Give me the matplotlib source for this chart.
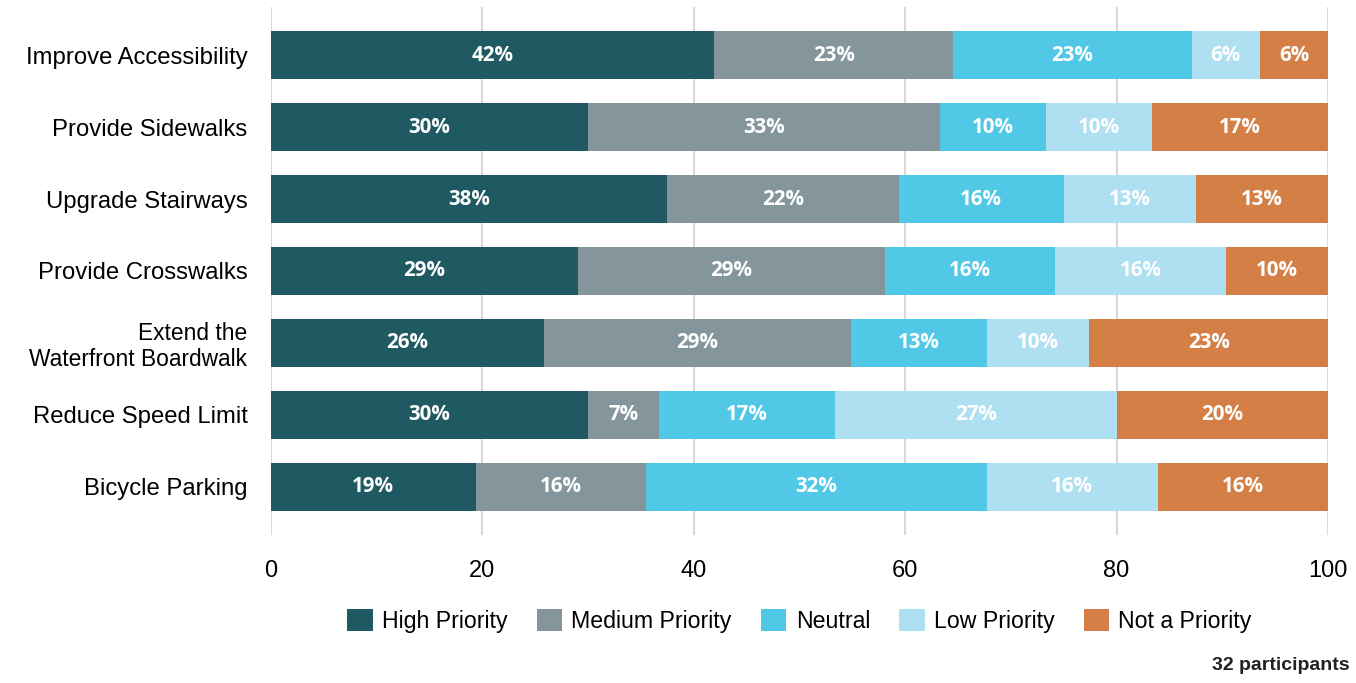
import matplotlib
matplotlib.use("Agg")
import matplotlib.pyplot as plt
from matplotlib.patches import Patch

# Survey results: share of responses (%) per project and priority level
projects = [
    "Improve Accessibility",
    "Provide Sidewalks",
    "Upgrade Stairways",
    "Provide Crosswalks",
    "Extend the\nWaterfront Boardwalk",
    "Reduce Speed Limit",
    "Bicycle Parking",
]
levels = ["High Priority", "Medium Priority", "Neutral", "Low Priority", "Not a Priority"]

high_priority = [41.94, 30.00, 37.50, 29.03, 25.81, 30.00, 19.35]
medium_priority = [22.58, 33.33, 21.88, 29.03, 29.03, 6.67, 16.13]
neutral = [22.58, 10.00, 15.63, 16.13, 12.90, 16.67, 32.26]
low_priority = [6.45, 10.00, 12.50, 16.13, 9.68, 26.67, 16.13]
not_a_priority = [6.45, 16.67, 12.50, 9.68, 22.58, 20.00, 16.13]

x_ticks = [0, 20, 40, 60, 80, 100]
footnote = "32 participants"

colors = ["#1F5962", "#84969B", "#50C8E6", "#AEE0F1", "#D47F46"]
series = [high_priority, medium_priority, neutral, low_priority, not_a_priority]

fig = plt.figure(figsize=(13.56, 6.83), dpi=100)
ax = fig.add_axes([271 / 1356, 1 - 535 / 683, (1328 - 271) / 1356, 528 / 683])

ypos = list(range(len(projects)))
left = [0.0] * len(projects)
for vals, color, name in zip(series, colors, levels):
    ax.barh(ypos, vals, left=left, height=0.667, color=color,
            edgecolor="none", label=name, zorder=3)
    for y, l, v in zip(ypos, left, vals):
        ax.text(l + v / 2, y, f"{int(v + 0.5)}%", ha="center", va="center",
                color="white", fontsize=14.8, fontweight="bold",
                family="Open Sans", zorder=4)
    left = [a + b for a, b in zip(left, vals)]

ax.set_xlim(0, 100)
ax.set_ylim(len(projects) - 1 + 0.667, -0.667)
ax.set_xticks(x_ticks)
ax.set_xticklabels([str(t) for t in x_ticks], family="Liberation Sans", fontsize=17)
ax.set_yticks(ypos)
ax.set_yticklabels(projects, family="Liberation Sans", fontsize=17.2, ha="right")
# wrapped labels are set a little smaller with tighter leading
for lbl in ax.get_yticklabels():
    if "\n" in lbl.get_text():
        lbl.set_fontsize(16.4)
        lbl.set_linespacing(1.12)
ax.tick_params(axis="x", length=0, pad=18, colors="black")
ax.tick_params(axis="y", length=0, pad=17, colors="black")

ax.grid(axis="x", color="#D9D9D9", linewidth=1.5, zorder=0)
for side in ["top", "right", "bottom", "left"]:
    ax.spines[side].set_visible(False)

handles = [Patch(facecolor=c, edgecolor="none", label=n) for c, n in zip(colors, levels)]
fig.legend(handles=handles, loc="center", ncol=5,
           bbox_to_anchor=((271 + 1328) / 2 / 1356, 1 - 621 / 683),
           frameon=False, prop={"family": "Liberation Sans", "size": 16.7},
           handlelength=1.1, handleheight=1.1, handletextpad=0.4,
           columnspacing=1.25)

fig.text(1350 / 1356, 1 - 666 / 683, footnote, ha="right", va="center",
         family="Liberation Sans", fontsize=14, fontweight="bold", color="#222222")

fig.savefig("out.png", dpi=100, facecolor="white")
